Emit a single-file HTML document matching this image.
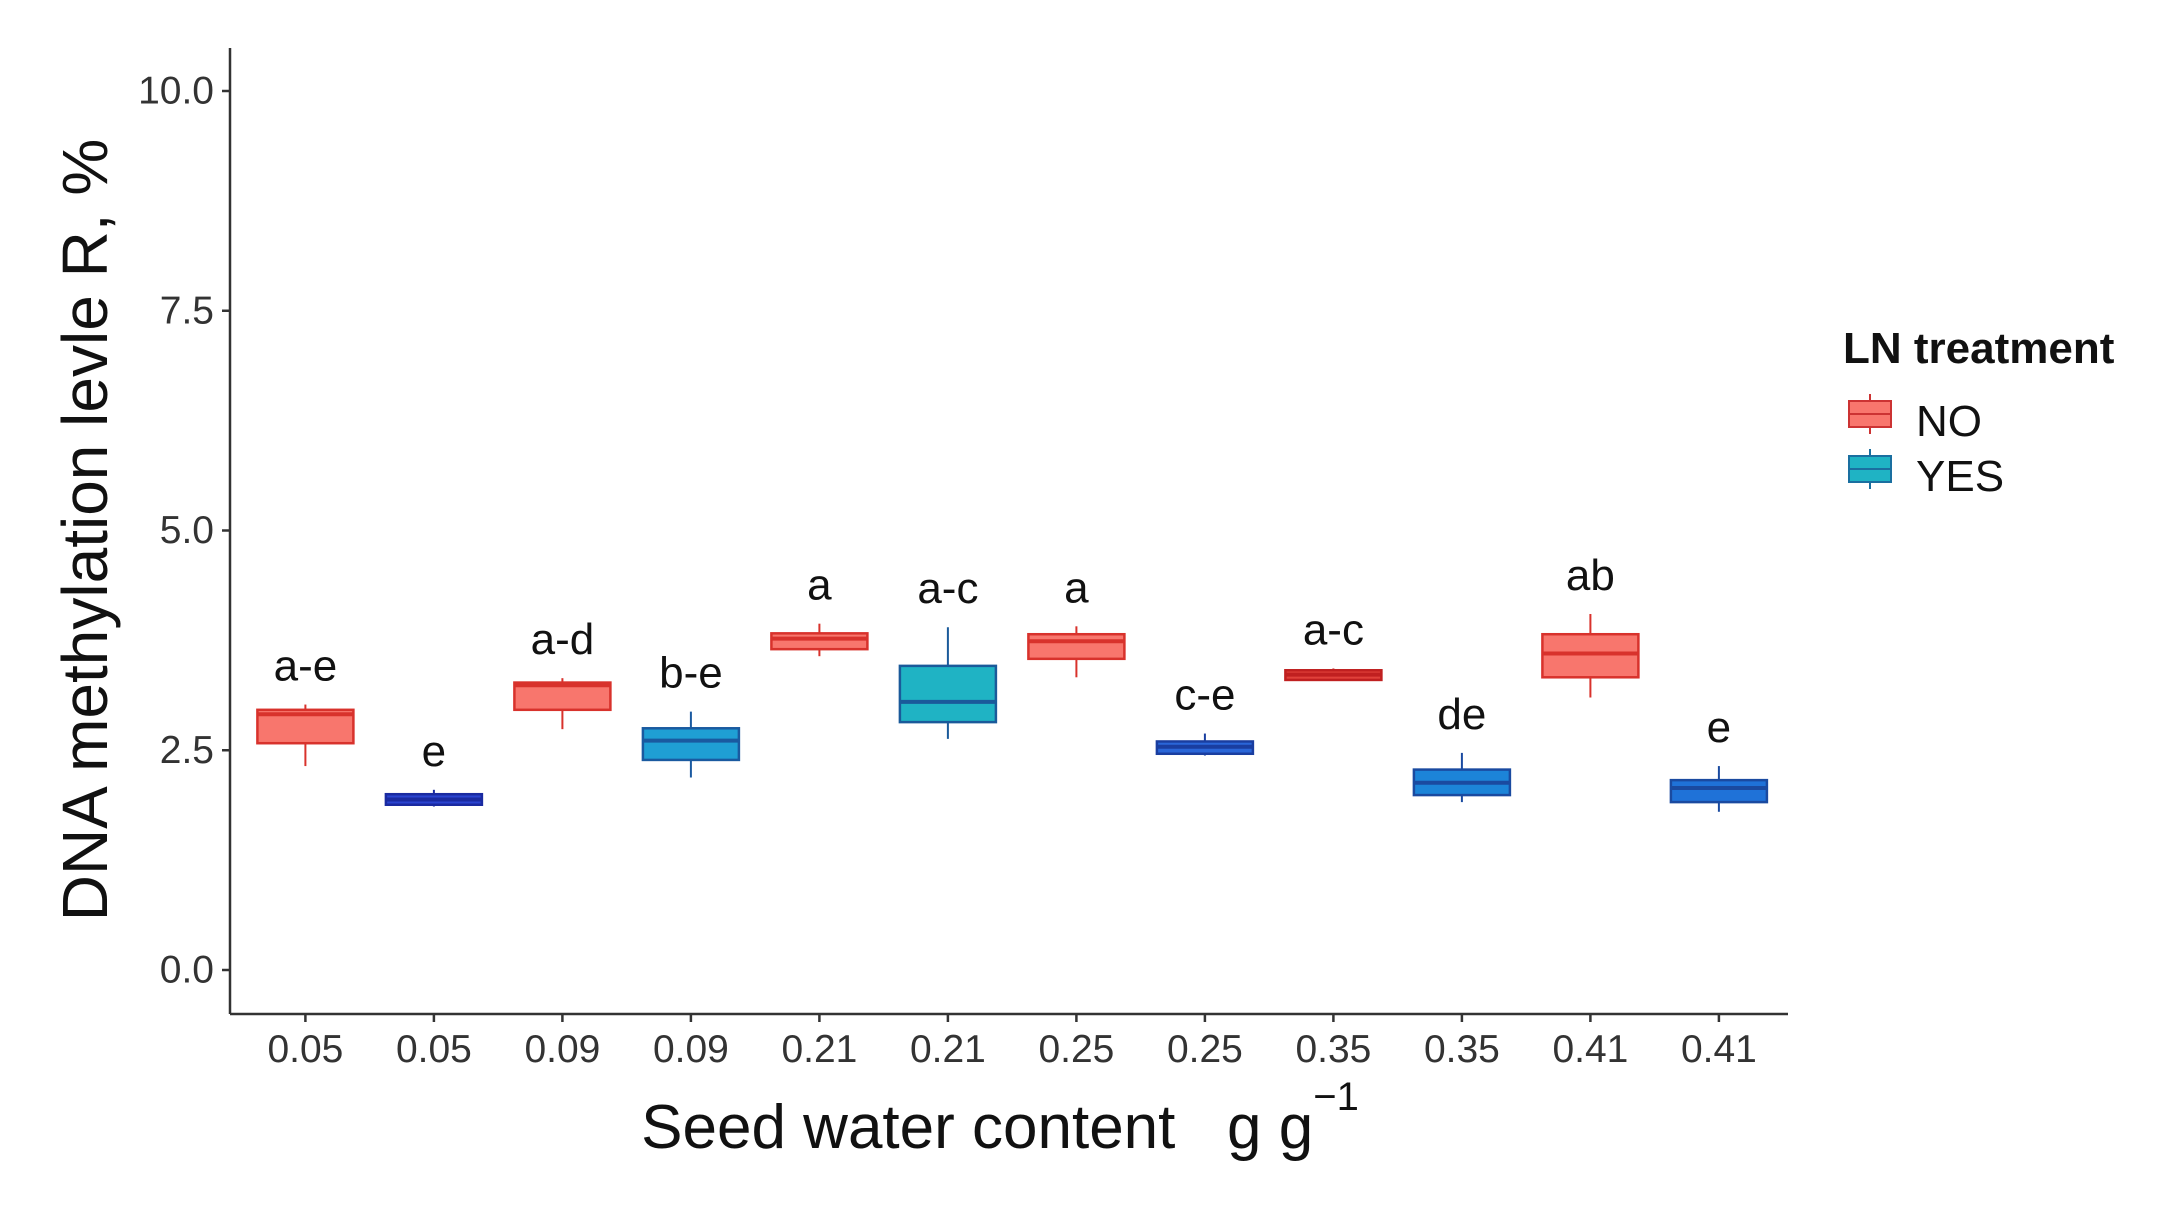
<!DOCTYPE html>
<html><head><meta charset="utf-8"><style>
html,body{margin:0;padding:0;background:#fff;}
svg{display:block;font-family:"Liberation Sans",Arial,sans-serif;}
</style></head><body>
<svg id="chart" width="2157" height="1231" viewBox="0 0 2157 1231">
<g id="plot"></g>
<line x1="230" y1="48" x2="230" y2="1014" stroke="#333" stroke-width="2.5"/>
<line x1="230" y1="1014" x2="1788" y2="1014" stroke="#333" stroke-width="2.5"/>
<text x="85" y="530" transform="rotate(-90 85 530)" text-anchor="middle" dominant-baseline="central" font-size="64" fill="#111">DNA methylation levle R, %</text>
<text x="1000" y="1148" text-anchor="middle" font-size="62" fill="#111">Seed water content&#160;&#160;&#160;g g<tspan dy="-38" font-size="40">−1</tspan></text>
<g>
<text x="1843" y="363" font-size="44" font-weight="bold" fill="#111">LN treatment</text>
<g>
<line x1="1870" y1="394" x2="1870" y2="434" stroke="#c33" stroke-width="2"/>
<rect x="1849" y="401" width="42" height="26" fill="#f8766d" stroke="#c33" stroke-width="2"/>
<line x1="1849" y1="414" x2="1891" y2="414" stroke="#c33" stroke-width="2"/>
<text x="1916" y="436" font-size="44" fill="#111">NO</text></g>
<g>
<line x1="1870" y1="449" x2="1870" y2="489" stroke="#1a6fa0" stroke-width="2"/>
<rect x="1849" y="456" width="42" height="26" fill="#1fb3c4" stroke="#1a6fa0" stroke-width="2"/>
<line x1="1849" y1="469" x2="1891" y2="469" stroke="#1a6fa0" stroke-width="2"/>
<text x="1916" y="491" font-size="44" fill="#111">YES</text></g>
</g>
</svg>
<script>
const categories = ["0.05","0.05","0.09","0.09","0.21","0.21","0.25","0.25","0.35","0.35","0.41","0.41"];
const groups = ["NO","YES","NO","YES","NO","YES","NO","YES","NO","YES","NO","YES"];
const whiskerMin = [2.32,1.86,2.74,2.19,3.57,2.63,3.33,2.44,3.29,1.91,3.10,1.80];
const q1 = [2.58,1.88,2.96,2.39,3.65,2.82,3.54,2.46,3.30,1.99,3.33,1.91];
const medians = [2.91,1.94,3.24,2.61,3.77,3.05,3.74,2.54,3.36,2.13,3.60,2.07];
const q3 = [2.96,2.00,3.27,2.75,3.83,3.46,3.82,2.60,3.41,2.28,3.82,2.16];
const whiskerMax = [3.02,2.05,3.32,2.94,3.94,3.90,3.91,2.69,3.43,2.47,4.05,2.32];
const letters = ["a-e","e","a-d","b-e","a","a-c","a","c-e","a-c","de","ab","e"];
const yTicks = [0,2.5,5,7.5,10];
const yTickLabels = ["0.0","2.5","5.0","7.5","10.0"];

const fills = ["#f8766d","#2a44d0","#f8766d","#1f9fd4","#f8766d","#1fb3c4","#f8766d","#2a66d8","#e0413a","#1c84d8","#f8766d","#1f72d8"];
const strokes = ["#d8322c","#1a2aa0","#d8322c","#1a5aa0","#d8322c","#1a5a9a","#d8322c","#1a3ea0","#c02020","#1a4aa0","#d8322c","#1a4aa0"];

const NS="http://www.w3.org/2000/svg";
const svg=document.getElementById('chart');
const plot=document.getElementById('plot');
const yScale=v=>970-v*87.9;
const xScale=i=>305.4+i*128.5;
const bw=96;
function mk(tag,attrs,parent){const e=document.createElementNS(NS,tag);for(const k in attrs)e.setAttribute(k,attrs[k]);(parent||plot).appendChild(e);return e;}

yTicks.forEach((t,i)=>{
  const y=yScale(t);
  const tk=mk('line',{x1:222,x2:230,y1:y,y2:y,stroke:'#333','stroke-width':2.5},svg);
  
  
  const tx=mk('text',{x:214,y:y,'text-anchor':'end','dominant-baseline':'central','font-size':39,fill:'#333'},svg);
  tx.textContent=yTickLabels[i];
  
  
});
categories.forEach((c,i)=>{
  const x=xScale(i);
  const tk=mk('line',{x1:x,x2:x,y1:1014,y2:1022,stroke:'#333','stroke-width':2.5},svg);
  
  
  const tx=mk('text',{x:x,y:1062,'text-anchor':'middle','font-size':39,fill:'#333'},svg);
  tx.textContent=c;
  
  

  const g=mk('g',{});
  
  
  mk('line',{x1:x,x2:x,y1:yScale(whiskerMax[i]),y2:yScale(whiskerMin[i]),stroke:strokes[i],'stroke-width':2},g);
  mk('rect',{x:x-bw/2,y:yScale(q3[i]),width:bw,height:Math.max(yScale(q1[i])-yScale(q3[i]),2),fill:fills[i],stroke:strokes[i],'stroke-width':2.5},g);
  mk('line',{x1:x-bw/2,x2:x+bw/2,y1:yScale(medians[i]),y2:yScale(medians[i]),stroke:strokes[i],'stroke-width':4},g);
  const lt=mk('text',{x:x,y:yScale(whiskerMax[i])-24,'text-anchor':'middle','font-size':44,fill:'#111'});
  lt.textContent=letters[i];
  
  
});
</script>
</body></html>
